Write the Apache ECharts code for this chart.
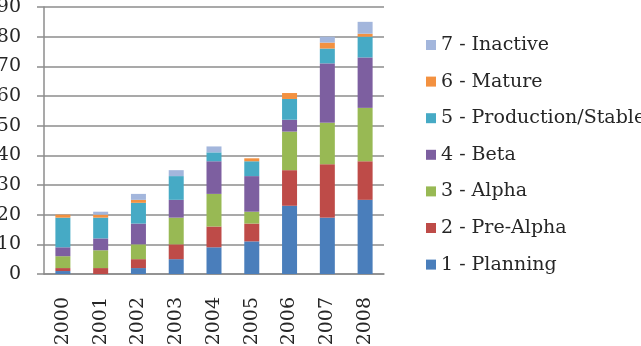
<!DOCTYPE html>
<html>
<head>
<meta charset="utf-8">
<script src="https://cdn.jsdelivr.net/npm/echarts@6/dist/echarts.min.js"></script>
<style>
html, body { margin: 0; padding: 0; background: #fff; }
#chart { width: 641px; height: 346px; }
</style>
</head>
<body>
<div id="chart"></div>
<script>
// data
var years = ['2000', '2001', '2002', '2003', '2004', '2005', '2006', '2007', '2008'];
var planning   = [1, 0, 2, 5, 9, 11, 23, 19, 25];
var preAlpha   = [1, 2, 3, 5, 7, 6, 12, 18, 13];
var alpha      = [4, 6, 5, 9, 11, 4, 13, 14, 18];
var beta       = [3, 4, 7, 6, 11, 12, 4, 20, 17];
var production = [10, 7, 7, 8, 3, 5, 7, 5, 7];
var mature     = [1, 1, 1, 0, 0, 1, 2, 2, 1];
var inactive   = [0, 1, 2, 2, 2, 0, 0, 2, 4];
var names = ['1 - Planning', '2 - Pre-Alpha', '3 - Alpha', '4 - Beta',
             '5 - Production/Stable', '6 - Mature', '7 - Inactive'];
var values = [planning, preAlpha, alpha, beta, production, mature, inactive];
var colors = ['#4a7ebb', '#be4b48', '#98b954', '#7d5fa0', '#46aac5', '#f39140', '#a3b6dc'];

var gridColor = '#8c8c8c';
var font = 'DejaVu Serif';

var series = [];
for (var i = 0; i < names.length; i++) {
    series.push({
        name: names[i],
        type: 'bar',
        stack: 'total',
        barWidth: 15,
        itemStyle: { color: colors[i] },
        data: values[i]
    });
}

var myChart = echarts.init(document.getElementById('chart'));
var option = {
    animation: false,
    textStyle: { fontFamily: font },
    grid: { left: 44, right: 257, top: 7, bottom: 72, outerBoundsMode: 'none' },
    legend: {
        orient: 'vertical',
        left: 421,
        top: 30,
        icon: 'rect',
        itemWidth: 10,
        itemHeight: 10,
        itemGap: 16.6,
        data: names.slice().reverse(),
        textStyle: { fontFamily: font, fontSize: 19, lineHeight: 20, color: '#262626' }
    },
    xAxis: {
        type: 'category',
        data: years,
        axisLine: { lineStyle: { color: gridColor, width: 1.5 } },
        axisTick: { length: 7, lineStyle: { color: gridColor, width: 1.5 } },
        axisLabel: { rotate: 90, margin: 23, fontFamily: font, fontSize: 19, color: '#262626' }
    },
    yAxis: {
        type: 'value',
        min: 0,
        max: 90,
        interval: 10,
        axisLine: { show: true, lineStyle: { color: gridColor, width: 1.5 } },
        axisTick: { show: true, length: 7, lineStyle: { color: gridColor, width: 1.5 } },
        splitLine: { lineStyle: { color: gridColor, width: 1.5 } },
        axisLabel: { margin: 23, fontFamily: font, fontSize: 19, color: '#262626' }
    },
    series: series
};
myChart.setOption(option);
</script>
</body>
</html>
